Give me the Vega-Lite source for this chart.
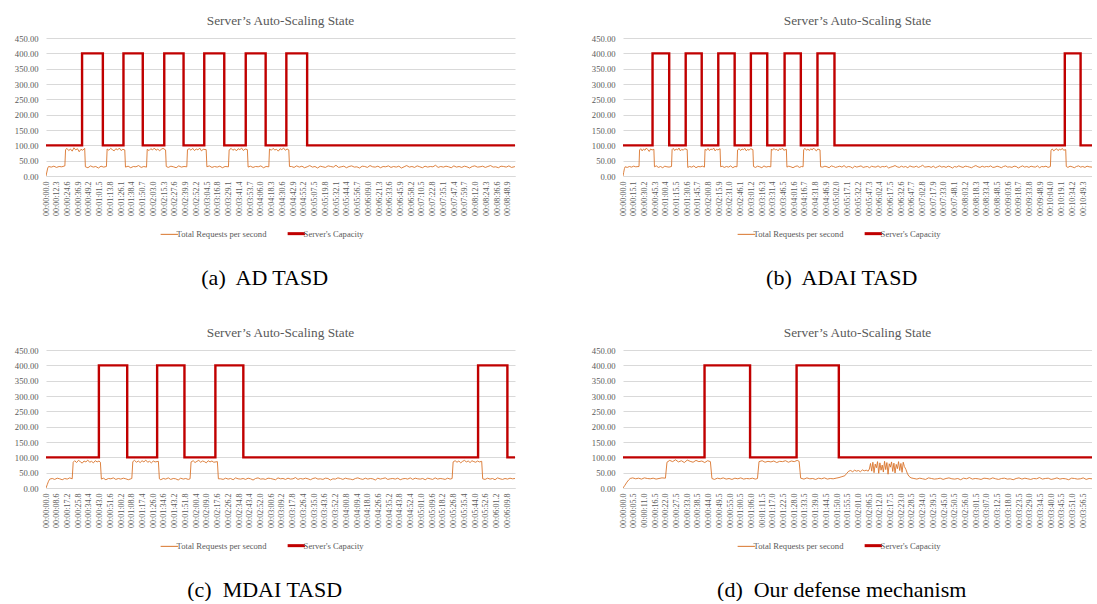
{
"$schema": "https://vega.github.io/schema/vega-lite/v6.json",
"background": "white",
"padding": {"left": 14, "top": 13, "right": 0, "bottom": 0},
"datasets": {
"ra": [{"t":0,"v":0},{"t":1,"v":13},{"t":2,"v":26},{"t":3,"v":31},{"t":6,"v":29},{"t":9,"v":32},{"t":12,"v":28},{"t":15,"v":31},{"t":18,"v":30},{"t":21.6,"v":33},
{"t":22.4,"v":86},{"t":24,"v":90},{"t":26,"v":83},{"t":28,"v":88},{"t":30,"v":81},{"t":32,"v":92},{"t":34,"v":85},{"t":36,"v":89},{"t":38,"v":79},{"t":40,"v":87},{"t":42,"v":84},{"t":44.3,"v":90},
{"t":45.1,"v":30},{"t":48,"v":27},{"t":51,"v":33},{"t":54,"v":29},{"t":57,"v":31},{"t":60,"v":26},{"t":63,"v":32},{"t":66,"v":29},{"t":69.2,"v":31},
{"t":70,"v":88},{"t":72,"v":84},{"t":74,"v":90},{"t":76,"v":86},{"t":78,"v":82},{"t":80,"v":89},{"t":82,"v":85},{"t":84,"v":91},{"t":86,"v":83},{"t":88,"v":87},{"t":90.2,"v":85},
{"t":91,"v":29},{"t":94,"v":32},{"t":97,"v":27},{"t":100,"v":31},{"t":103,"v":30},{"t":106,"v":34},{"t":109,"v":28},{"t":112,"v":31},{"t":115.1,"v":29},
{"t":115.9,"v":87},{"t":118,"v":83},{"t":120,"v":89},{"t":122,"v":85},{"t":124,"v":91},{"t":126,"v":84},{"t":128,"v":88},{"t":130,"v":82},{"t":132,"v":87},{"t":134,"v":90},{"t":136.9,"v":85},
{"t":137.7,"v":31},{"t":140,"v":28},{"t":143,"v":32},{"t":146,"v":30},{"t":149,"v":27},{"t":152,"v":33},{"t":155,"v":29},{"t":158,"v":31},{"t":161.2,"v":30},
{"t":162,"v":86},{"t":164,"v":89},{"t":166,"v":84},{"t":168,"v":90},{"t":170,"v":83},{"t":172,"v":88},{"t":174,"v":85},{"t":176,"v":91},{"t":178,"v":82},{"t":180,"v":87},{"t":183.4,"v":86},
{"t":184.2,"v":30},{"t":187,"v":33},{"t":190,"v":28},{"t":193,"v":31},{"t":196,"v":29},{"t":199,"v":32},{"t":202,"v":27},{"t":205,"v":31},{"t":208.9,"v":30},
{"t":209.7,"v":85},{"t":212,"v":90},{"t":214,"v":84},{"t":216,"v":88},{"t":218,"v":82},{"t":220,"v":89},{"t":222,"v":86},{"t":224,"v":91},{"t":226,"v":83},{"t":228,"v":88},{"t":230.6,"v":86},
{"t":231.4,"v":29},{"t":234,"v":32},{"t":237,"v":28},{"t":240,"v":31},{"t":243,"v":30},{"t":246,"v":33},{"t":249,"v":27},{"t":252,"v":31},{"t":255.1,"v":30},
{"t":255.9,"v":88},{"t":258,"v":84},{"t":260,"v":90},{"t":262,"v":85},{"t":264,"v":87},{"t":266,"v":81},{"t":268,"v":89},{"t":270,"v":86},{"t":272,"v":91},{"t":274,"v":84},{"t":276,"v":88},{"t":278,"v":85},
{"t":278.8,"v":31},
{"t":281,"v":31},{"t":284,"v":28},{"t":287,"v":33},{"t":290,"v":29},{"t":293,"v":32},{"t":296,"v":27},{"t":299,"v":30},{"t":302,"v":34},{"t":305,"v":29},{"t":308,"v":31},
{"t":311,"v":26},{"t":314,"v":32},{"t":317,"v":30},{"t":320,"v":28},{"t":323,"v":33},{"t":326,"v":31},{"t":329,"v":29},{"t":332,"v":35},{"t":335,"v":28},{"t":338,"v":30},
{"t":341,"v":32},{"t":344,"v":27},{"t":347,"v":31},{"t":350,"v":33},{"t":353,"v":29},{"t":356,"v":30},{"t":359,"v":26},{"t":362,"v":32},{"t":365,"v":31},{"t":368,"v":28},
{"t":371,"v":34},{"t":374,"v":30},{"t":377,"v":29},{"t":380,"v":32},{"t":383,"v":27},{"t":386,"v":31},{"t":389,"v":30},{"t":392,"v":33},{"t":395,"v":28},{"t":398,"v":31},
{"t":401,"v":29},{"t":404,"v":32},{"t":407,"v":26},{"t":410,"v":30},{"t":413,"v":34},{"t":416,"v":29},{"t":419,"v":31},{"t":422,"v":28},{"t":425,"v":33},{"t":428,"v":30},
{"t":431,"v":27},{"t":434,"v":32},{"t":437,"v":29},{"t":440,"v":31},{"t":443,"v":30},{"t":446,"v":35},{"t":449,"v":28},{"t":452,"v":31},{"t":455,"v":29},{"t":458,"v":32},
{"t":461,"v":30},{"t":464,"v":27},{"t":467,"v":33},{"t":470,"v":29},{"t":473,"v":31},{"t":476,"v":28},{"t":479,"v":32},{"t":482,"v":30},{"t":485,"v":26},{"t":488,"v":31},
{"t":491,"v":33},{"t":494,"v":29},{"t":497,"v":30},{"t":500,"v":32},{"t":503,"v":28},{"t":506,"v":31},{"t":509,"v":34},{"t":512,"v":29},{"t":515,"v":30},{"t":518,"v":27},
{"t":521,"v":32},{"t":524,"v":31},{"t":527,"v":29},{"t":530,"v":33},{"t":533,"v":28},{"t":536,"v":30},{"t":537,"v":31}],
"ca": [{"t":0,"v":100},{"t":41.3,"v":400},{"t":65.1,"v":100},{"t":88.7,"v":400},{"t":110.8,"v":100},{"t":135.4,"v":400},{"t":157.5,"v":100},{"t":181.2,"v":400},{"t":204.1,"v":100},{"t":228.7,"v":400},{"t":251.5,"v":100},{"t":275.2,"v":400},{"t":299.0,"v":100},{"t":537,"v":100}],
"rb": [{"t":0,"v":0},{"t":1,"v":12},{"t":2,"v":24},{"t":3,"v":30},{"t":6,"v":28},{"t":9,"v":31},{"t":12,"v":29},{"t":15,"v":32},{"t":18,"v":30},{"t":22.6,"v":31},
{"t":23.4,"v":85},{"t":25,"v":89},{"t":27,"v":82},{"t":29,"v":88},{"t":31,"v":84},{"t":33,"v":91},{"t":35,"v":86},{"t":37,"v":80},{"t":39,"v":88},{"t":41,"v":85},{"t":43.6,"v":87},
{"t":44.4,"v":30},{"t":47,"v":33},{"t":50,"v":28},{"t":53,"v":31},{"t":56,"v":27},{"t":59,"v":32},{"t":62,"v":30},{"t":65,"v":29},{"t":68.5,"v":31},
{"t":69.3,"v":86},{"t":71,"v":90},{"t":73,"v":83},{"t":75,"v":88},{"t":77,"v":85},{"t":79,"v":91},{"t":81,"v":82},{"t":83,"v":87},{"t":85,"v":84},{"t":87,"v":89},{"t":90.6,"v":86},
{"t":91.4,"v":28},{"t":94,"v":31},{"t":97,"v":29},{"t":100,"v":33},{"t":103,"v":27},{"t":106,"v":31},{"t":109,"v":30},{"t":112,"v":32},{"t":115,"v":29},
{"t":115.8,"v":87},{"t":118,"v":84},{"t":120,"v":90},{"t":122,"v":83},{"t":124,"v":88},{"t":126,"v":86},{"t":128,"v":91},{"t":130,"v":82},{"t":132,"v":87},{"t":134,"v":85},{"t":137,"v":89},
{"t":137.8,"v":30},{"t":140,"v":32},{"t":143,"v":28},{"t":146,"v":31},{"t":149,"v":29},{"t":152,"v":33},{"t":155,"v":27},{"t":158,"v":31},{"t":160.9,"v":30},
{"t":161.7,"v":85},{"t":164,"v":89},{"t":166,"v":83},{"t":168,"v":88},{"t":170,"v":86},{"t":172,"v":90},{"t":174,"v":82},{"t":176,"v":87},{"t":178,"v":84},{"t":180,"v":89},{"t":183.4,"v":86},
{"t":184.2,"v":31},{"t":187,"v":28},{"t":190,"v":32},{"t":193,"v":30},{"t":196,"v":27},{"t":199,"v":33},{"t":202,"v":29},{"t":205,"v":31},{"t":208.6,"v":30},
{"t":209.4,"v":88},{"t":211,"v":84},{"t":213,"v":90},{"t":215,"v":85},{"t":217,"v":87},{"t":219,"v":82},{"t":221,"v":89},{"t":223,"v":86},{"t":225,"v":91},{"t":227,"v":84},{"t":230.6,"v":87},
{"t":231.4,"v":29},{"t":234,"v":32},{"t":237,"v":30},{"t":240,"v":27},{"t":243,"v":31},{"t":246,"v":33},{"t":249,"v":28},{"t":252,"v":31},{"t":254.2,"v":30},
{"t":255,"v":86},{"t":257,"v":90},{"t":259,"v":84},{"t":261,"v":88},{"t":263,"v":83},{"t":265,"v":89},{"t":267,"v":85},{"t":269,"v":91},{"t":271,"v":86},{"t":273,"v":82},{"t":275,"v":88},{"t":278.1,"v":85},
{"t":278.9,"v":30},
{"t":282,"v":29},{"t":285,"v":32},{"t":288,"v":30},{"t":291,"v":27},{"t":294,"v":33},{"t":297,"v":31},{"t":300,"v":28},{"t":303,"v":30},{"t":306,"v":32},{"t":309,"v":29},
{"t":312,"v":34},{"t":315,"v":28},{"t":318,"v":31},{"t":321,"v":30},{"t":324,"v":26},{"t":327,"v":32},{"t":330,"v":29},{"t":333,"v":31},{"t":336,"v":33},{"t":339,"v":28},
{"t":342,"v":30},{"t":345,"v":31},{"t":348,"v":27},{"t":351,"v":32},{"t":354,"v":30},{"t":357,"v":29},{"t":360,"v":33},{"t":363,"v":28},{"t":366,"v":31},{"t":369,"v":30},
{"t":372,"v":32},{"t":375,"v":26},{"t":378,"v":29},{"t":381,"v":31},{"t":384,"v":34},{"t":387,"v":30},{"t":390,"v":28},{"t":393,"v":32},{"t":396,"v":29},{"t":399,"v":31},
{"t":402,"v":27},{"t":405,"v":33},{"t":408,"v":30},{"t":411,"v":29},{"t":414,"v":32},{"t":417,"v":28},{"t":420,"v":31},{"t":423,"v":35},{"t":426,"v":29},{"t":429,"v":30},
{"t":432,"v":31},{"t":435,"v":28},{"t":438,"v":32},{"t":441,"v":27},{"t":444,"v":30},{"t":447,"v":33},{"t":450,"v":29},{"t":453,"v":31},{"t":456,"v":28},{"t":459,"v":32},
{"t":462,"v":30},{"t":465,"v":26},{"t":468,"v":31},{"t":471,"v":29},{"t":474,"v":33},{"t":477,"v":30},{"t":480,"v":28},{"t":483,"v":32},{"t":486,"v":31},{"t":489,"v":29},
{"t":492,"v":27},{"t":495,"v":31},{"t":498,"v":34},{"t":501,"v":30},{"t":504,"v":28},{"t":507,"v":32},{"t":510,"v":29},{"t":513,"v":31},{"t":516,"v":30},{"t":519,"v":33},
{"t":522,"v":28},{"t":525,"v":29},{"t":528,"v":32},{"t":531,"v":30},{"t":534,"v":27},{"t":537,"v":31},{"t":540,"v":33},{"t":543,"v":29},{"t":546,"v":30},{"t":549,"v":28},
{"t":552,"v":32},{"t":555,"v":31},{"t":558,"v":26},{"t":561,"v":30},{"t":564,"v":33},{"t":567,"v":29},{"t":570,"v":31},{"t":573,"v":28},{"t":576,"v":32},{"t":579,"v":30},
{"t":582,"v":29},{"t":585,"v":33},{"t":588,"v":27},{"t":591,"v":31},{"t":594,"v":30},{"t":597,"v":32},{"t":600,"v":28},{"t":603.3,"v":31},
{"t":604.1,"v":84},{"t":606,"v":88},{"t":608,"v":82},{"t":610,"v":86},{"t":612,"v":89},{"t":614,"v":83},{"t":616,"v":87},{"t":618,"v":85},{"t":620,"v":90},{"t":622,"v":84},{"t":624.9,"v":86},
{"t":625.7,"v":31},{"t":628,"v":28},{"t":631,"v":32},{"t":634,"v":30},{"t":637,"v":27},{"t":640,"v":31},{"t":643,"v":33},{"t":646,"v":29},{"t":649,"v":31},{"t":652,"v":28},{"t":655,"v":32},{"t":658,"v":30},{"t":662,"v":29}],
"cb": [{"t":0,"v":100},{"t":41.7,"v":400},{"t":65.2,"v":100},{"t":88.5,"v":400},{"t":111.1,"v":100},{"t":134.5,"v":400},{"t":157.6,"v":100},{"t":180.5,"v":400},{"t":203.6,"v":100},{"t":228.1,"v":400},{"t":251.0,"v":100},{"t":274.5,"v":400},{"t":298.5,"v":100},{"t":623.6,"v":400},{"t":645.9,"v":100},{"t":662,"v":100}],
"rc": [{"t":0,"v":0},{"t":1,"v":11},{"t":2,"v":22},{"t":3,"v":29},{"t":5,"v":31},{"t":7,"v":28},{"t":9,"v":32},{"t":11,"v":30},{"t":13,"v":27},{"t":15,"v":31},{"t":17,"v":29},{"t":19,"v":33},{"t":21,"v":30},
{"t":21.8,"v":84},{"t":23,"v":89},{"t":24.5,"v":83},{"t":26,"v":90},{"t":27.5,"v":86},{"t":29,"v":81},{"t":30.5,"v":88},{"t":32,"v":85},{"t":33.5,"v":91},{"t":35,"v":84},{"t":36.5,"v":87},{"t":38,"v":82},{"t":39.5,"v":89},{"t":41,"v":85},{"t":42.5,"v":88},{"t":43.6,"v":84},
{"t":44.4,"v":29},{"t":46,"v":32},{"t":48,"v":27},{"t":50,"v":31},{"t":52,"v":30},{"t":54,"v":33},{"t":56,"v":28},{"t":58,"v":31},{"t":60,"v":29},{"t":62,"v":32},{"t":64,"v":30},{"t":66,"v":27},{"t":68.8,"v":31},
{"t":69.6,"v":86},{"t":71,"v":90},{"t":72.5,"v":84},{"t":74,"v":88},{"t":75.5,"v":83},{"t":77,"v":89},{"t":78.5,"v":85},{"t":80,"v":91},{"t":81.5,"v":84},{"t":83,"v":87},{"t":84.5,"v":82},{"t":86,"v":88},{"t":87.5,"v":85},{"t":90.1,"v":87},
{"t":90.9,"v":30},{"t":92,"v":27},{"t":94,"v":31},{"t":96,"v":29},{"t":98,"v":33},{"t":100,"v":28},{"t":102,"v":31},{"t":104,"v":30},{"t":106,"v":26},{"t":108,"v":32},{"t":110,"v":29},{"t":112,"v":31},{"t":114,"v":28},{"t":115.5,"v":30},
{"t":116.3,"v":85},{"t":118,"v":89},{"t":119.5,"v":83},{"t":121,"v":87},{"t":122.5,"v":90},{"t":124,"v":84},{"t":125.5,"v":88},{"t":127,"v":86},{"t":128.5,"v":82},{"t":130,"v":89},{"t":131.5,"v":85},{"t":133,"v":88},{"t":134.5,"v":84},{"t":137.4,"v":86},
{"t":138.2,"v":30},
{"t":140,"v":30},{"t":142,"v":28},{"t":144,"v":32},{"t":146,"v":29},{"t":148,"v":31},{"t":150,"v":27},{"t":152,"v":33},{"t":154,"v":30},{"t":156,"v":29},{"t":158,"v":31},
{"t":160,"v":28},{"t":162,"v":32},{"t":164,"v":30},{"t":166,"v":26},{"t":168,"v":31},{"t":170,"v":33},{"t":172,"v":29},{"t":174,"v":30},{"t":176,"v":28},{"t":178,"v":32},
{"t":180,"v":31},{"t":182,"v":29},{"t":184,"v":27},{"t":186,"v":33},{"t":188,"v":30},{"t":190,"v":31},{"t":192,"v":28},{"t":194,"v":32},{"t":196,"v":29},{"t":198,"v":30},
{"t":200,"v":34},{"t":202,"v":28},{"t":204,"v":31},{"t":206,"v":29},{"t":208,"v":32},{"t":210,"v":30},{"t":212,"v":27},{"t":214,"v":31},{"t":216,"v":33},{"t":218,"v":29},
{"t":220,"v":30},{"t":222,"v":28},{"t":224,"v":32},{"t":226,"v":31},{"t":228,"v":26},{"t":230,"v":30},{"t":232,"v":29},{"t":234,"v":33},{"t":236,"v":31},{"t":238,"v":28},
{"t":240,"v":32},{"t":242,"v":30},{"t":244,"v":29},{"t":246,"v":27},{"t":248,"v":31},{"t":250,"v":33},{"t":252,"v":30},{"t":254,"v":28},{"t":256,"v":32},{"t":258,"v":29},
{"t":260,"v":31},{"t":262,"v":30},{"t":264,"v":26},{"t":266,"v":32},{"t":268,"v":29},{"t":270,"v":31},{"t":272,"v":33},{"t":274,"v":28},{"t":276,"v":30},{"t":278,"v":31},
{"t":280,"v":29},{"t":282,"v":32},{"t":284,"v":27},{"t":286,"v":30},{"t":288,"v":31},{"t":290,"v":29},{"t":292,"v":33},{"t":294,"v":28},{"t":296,"v":32},{"t":298,"v":30},
{"t":300,"v":29},{"t":302,"v":31},{"t":304,"v":27},{"t":306,"v":32},{"t":308,"v":30},{"t":310,"v":28},{"t":312,"v":33},{"t":314,"v":29},{"t":316,"v":31},{"t":318,"v":30},
{"t":320,"v":28},{"t":322,"v":32},{"t":324,"v":29},{"t":325.6,"v":31},
{"t":326.4,"v":85},{"t":328,"v":89},{"t":329.5,"v":84},{"t":331,"v":88},{"t":332.5,"v":82},{"t":334,"v":87},{"t":335.5,"v":90},{"t":337,"v":85},{"t":338.5,"v":88},{"t":340,"v":83},{"t":341.5,"v":89},{"t":343,"v":86},{"t":344.5,"v":84},{"t":346,"v":88},{"t":347.5,"v":85},{"t":349.3,"v":87},
{"t":350.1,"v":30},{"t":352,"v":28},{"t":354,"v":32},{"t":356,"v":29},{"t":358,"v":31},{"t":360,"v":27},{"t":362,"v":33},{"t":364,"v":30},{"t":366,"v":28},{"t":368,"v":31},{"t":370,"v":29},{"t":372,"v":32},{"t":374,"v":30},{"t":376,"v":31}],
"cc": [{"t":0,"v":100},{"t":42.4,"v":400},{"t":65.1,"v":100},{"t":89.1,"v":400},{"t":111.0,"v":100},{"t":135.8,"v":400},{"t":158.2,"v":100},{"t":346.4,"v":400},{"t":369.9,"v":100},{"t":376,"v":100}],
"rd": [{"t":0,"v":0},{"t":1,"v":9},{"t":2,"v":19},{"t":3,"v":27},{"t":3.7,"v":31},{"t":5,"v":33},{"t":6.5,"v":30},{"t":8,"v":32},{"t":9.5,"v":29},{"t":11,"v":33},{"t":12.5,"v":31},{"t":14,"v":30},{"t":15.5,"v":32},{"t":17,"v":29},{"t":18.5,"v":31},{"t":20,"v":33},{"t":21.8,"v":32},
{"t":22.6,"v":84},{"t":24,"v":90},{"t":25.5,"v":86},{"t":27,"v":92},{"t":28.5,"v":85},{"t":30,"v":89},{"t":31.5,"v":83},{"t":33,"v":91},{"t":34.5,"v":87},{"t":36,"v":84},{"t":37.5,"v":90},{"t":39,"v":86},{"t":40.5,"v":88},{"t":42,"v":83},{"t":43.5,"v":89},{"t":44.9,"v":86},
{"t":45.7,"v":31},{"t":47,"v":28},{"t":48.5,"v":32},{"t":50,"v":30},{"t":51.5,"v":33},{"t":53,"v":29},{"t":54.5,"v":31},{"t":56,"v":28},{"t":57.5,"v":32},{"t":59,"v":30},{"t":60.5,"v":33},{"t":62,"v":29},{"t":63.5,"v":31},{"t":65,"v":30},{"t":66.5,"v":32},{"t":68,"v":29},{"t":69.1,"v":31},
{"t":69.9,"v":86},{"t":71.5,"v":89},{"t":73,"v":84},{"t":74.5,"v":87},{"t":76,"v":85},{"t":77.5,"v":88},{"t":79,"v":83},{"t":80.5,"v":87},{"t":82,"v":86},{"t":83.5,"v":89},{"t":85,"v":84},{"t":86.5,"v":88},{"t":88,"v":86},{"t":89.5,"v":90},{"t":90.5,"v":87},
{"t":91.3,"v":32},{"t":93,"v":29},{"t":94.5,"v":33},{"t":96,"v":30},{"t":97.5,"v":31},{"t":99,"v":28},{"t":100.5,"v":32},{"t":102,"v":30},{"t":103.5,"v":33},{"t":105,"v":29},{"t":106.5,"v":31},{"t":108,"v":30},{"t":109.5,"v":32},{"t":111,"v":34},{"t":112.5,"v":37},{"t":114,"v":40},
{"t":115,"v":48},{"t":116,"v":55},{"t":117,"v":57},{"t":118,"v":53},{"t":119,"v":58},{"t":120,"v":55},{"t":121,"v":57},{"t":122,"v":53},{"t":123,"v":59},{"t":124,"v":56},{"t":125,"v":58},{"t":126,"v":55},
{"t":126.6,"v":62},{"t":127.2,"v":80},{"t":127.8,"v":55},{"t":128.4,"v":84},{"t":129,"v":50},{"t":129.6,"v":78},{"t":130.2,"v":66},{"t":130.8,"v":86},{"t":131.4,"v":48},{"t":132,"v":82},{"t":132.6,"v":58},{"t":133.2,"v":75},{"t":133.8,"v":52},{"t":134.4,"v":87},{"t":135,"v":60},{"t":135.6,"v":83},{"t":136.2,"v":45},{"t":136.8,"v":79},{"t":137.4,"v":68},{"t":138,"v":85},{"t":138.6,"v":54},{"t":139.2,"v":81},{"t":139.8,"v":49},{"t":140.4,"v":77},{"t":141,"v":63},{"t":141.6,"v":86},{"t":142.2,"v":57},{"t":142.8,"v":80},{"t":143.4,"v":51},{"t":144,"v":84},{"t":144.6,"v":70},
{"t":145.4,"v":60},{"t":146.2,"v":46},{"t":147,"v":38},{"t":148,"v":33},
{"t":149.5,"v":31},{"t":151,"v":29},{"t":152.5,"v":32},{"t":154,"v":30},{"t":155.5,"v":28},{"t":157,"v":33},{"t":158.5,"v":31},{"t":160,"v":29},{"t":161.5,"v":30},{"t":163,"v":32},
{"t":164.5,"v":28},{"t":166,"v":31},{"t":167.5,"v":33},{"t":169,"v":30},{"t":170.5,"v":29},{"t":172,"v":31},{"t":173.5,"v":27},{"t":175,"v":32},{"t":176.5,"v":30},{"t":178,"v":34},
{"t":179.5,"v":29},{"t":181,"v":31},{"t":182.5,"v":30},{"t":184,"v":28},{"t":185.5,"v":32},{"t":187,"v":31},{"t":188.5,"v":29},{"t":190,"v":33},{"t":191.5,"v":30},{"t":193,"v":28},
{"t":194.5,"v":31},{"t":196,"v":32},{"t":197.5,"v":29},{"t":199,"v":30},{"t":200.5,"v":27},{"t":202,"v":31},{"t":203.5,"v":33},{"t":205,"v":29},{"t":206.5,"v":32},{"t":208,"v":30},
{"t":209.5,"v":28},{"t":211,"v":31},{"t":212.5,"v":30},{"t":214,"v":34},{"t":215.5,"v":29},{"t":217,"v":31},{"t":218.5,"v":32},{"t":220,"v":28},{"t":221.5,"v":30},{"t":223,"v":33},
{"t":224.5,"v":29},{"t":226,"v":31},{"t":227.5,"v":30},{"t":229,"v":27},{"t":230.5,"v":32},{"t":232,"v":31},{"t":233.5,"v":29},{"t":235,"v":30},{"t":236.5,"v":33},{"t":238,"v":28},
{"t":239.5,"v":31},{"t":241,"v":30}],
"cd": [{"t":0,"v":100},{"t":41.9,"v":400},{"t":65.3,"v":100},{"t":89.2,"v":400},{"t":110.9,"v":100},{"t":241,"v":100}]
},
"concat": [
{"title": {"text": "(a)\u00a0 AD TASD", "orient": "bottom", "font": "Liberation Serif", "fontSize": 22, "color": "#000000", "offset": 28, "anchor": "middle"},
 "vconcat": [{"width": 469, "height": 138, "title": {"text": "Server’s Auto-Scaling State"},
 "encoding": {
    "x": {"field": "t", "type": "quantitative", "scale": {"domain": [0, 537], "nice": false, "zero": false}, "axis": {"title": null, "values": [0,12.3,24.6,36.9,49.2,61.5,73.8,86.1,98.4,110.7,123,135.3,147.6,159.9,172.2,184.5,196.8,209.1,221.4,233.7,246,258.3,270.6,282.9,295.2,307.5,319.8,332.1,344.4,356.7,369,381.3,393.6,405.9,418.2,430.5,442.8,455.1,467.4,479.7,492,504.3,516.6,528.9], "labelExpr": "(floor(datum.value/60) < 10 ? '00:0' : '00:') + floor(datum.value/60) + ':' + format(datum.value % 60, '04.1f')"}},
    "y": {"field": "v", "type": "quantitative", "scale": {"domain": [0, 450], "nice": false}, "axis": {"title": null, "values": [0,50,100,150,200,250,300,350,400,450], "format": ".2f"}}
 },
 "layer": [
  {"data": {"name": "ra"}, "mark": {"type": "line", "strokeWidth": 0.9, "clip": true},
   "encoding": {"color": {"datum": "Total Requests per second", "type": "nominal", "scale": {"domain": ["Total Requests per second", "Server's Capacity"], "range": ["#D9742B", "#C00000"]}, "legend": {"encode": {"symbols": {"update": {"strokeWidth": {"signal": "datum.value == 'Total Requests per second' ? 1 : 3"}}}}}}}},
  {"data": {"name": "ca"}, "mark": {"type": "line", "strokeWidth": 2.4, "interpolate": "step-after", "clip": true},
   "encoding": {"color": {"datum": "Server's Capacity", "type": "nominal"}}}
 ]}]},
{"title": {"text": "(b)\u00a0 ADAI TASD", "orient": "bottom", "font": "Liberation Serif", "fontSize": 22, "color": "#000000", "offset": 28, "anchor": "middle"},
 "vconcat": [{"width": 469, "height": 138, "title": {"text": "Server’s Auto-Scaling State"},
 "encoding": {
    "x": {"field": "t", "type": "quantitative", "scale": {"domain": [0, 662], "nice": false, "zero": false}, "axis": {"title": null, "values": [0,15.1,30.2,45.3,60.4,75.5,90.6,105.7,120.8,135.9,151,166.1,181.2,196.3,211.4,226.5,241.6,256.7,271.8,286.9,302,317.1,332.2,347.3,362.4,377.5,392.6,407.7,422.8,437.9,453,468.1,483.2,498.3,513.4,528.5,543.6,558.7,573.8,588.9,604,619.1,634.2,649.3], "labelExpr": "(floor(datum.value/60) < 10 ? '00:0' : '00:') + floor(datum.value/60) + ':' + format(datum.value % 60, '04.1f')"}},
    "y": {"field": "v", "type": "quantitative", "scale": {"domain": [0, 450], "nice": false}, "axis": {"title": null, "values": [0,50,100,150,200,250,300,350,400,450], "format": ".2f"}}
 },
 "layer": [
  {"data": {"name": "rb"}, "mark": {"type": "line", "strokeWidth": 0.9, "clip": true},
   "encoding": {"color": {"datum": "Total Requests per second", "type": "nominal", "scale": {"domain": ["Total Requests per second", "Server's Capacity"], "range": ["#D9742B", "#C00000"]}, "legend": {"encode": {"symbols": {"update": {"strokeWidth": {"signal": "datum.value == 'Total Requests per second' ? 1 : 3"}}}}}}}},
  {"data": {"name": "cb"}, "mark": {"type": "line", "strokeWidth": 2.4, "interpolate": "step-after", "clip": true},
   "encoding": {"color": {"datum": "Server's Capacity", "type": "nominal"}}}
 ]}]},
{"title": {"text": "(c)\u00a0 MDAI TASD", "orient": "bottom", "font": "Liberation Serif", "fontSize": 22, "color": "#000000", "offset": 28, "anchor": "middle"},
 "vconcat": [{"width": 469, "height": 138, "title": {"text": "Server’s Auto-Scaling State"},
 "encoding": {
    "x": {"field": "t", "type": "quantitative", "scale": {"domain": [0, 376], "nice": false, "zero": false}, "axis": {"title": null, "values": [0,8.6,17.2,25.8,34.4,43,51.6,60.2,68.8,77.4,86,94.6,103.2,111.8,120.4,129,137.6,146.2,154.8,163.4,172,180.6,189.2,197.8,206.4,215,223.6,232.2,240.8,249.4,258,266.6,275.2,283.8,292.4,301,309.6,318.2,326.8,335.4,344,352.6,361.2,369.8], "labelExpr": "(floor(datum.value/60) < 10 ? '00:0' : '00:') + floor(datum.value/60) + ':' + format(datum.value % 60, '04.1f')"}},
    "y": {"field": "v", "type": "quantitative", "scale": {"domain": [0, 450], "nice": false}, "axis": {"title": null, "values": [0,50,100,150,200,250,300,350,400,450], "format": ".2f"}}
 },
 "layer": [
  {"data": {"name": "rc"}, "mark": {"type": "line", "strokeWidth": 0.9, "clip": true},
   "encoding": {"color": {"datum": "Total Requests per second", "type": "nominal", "scale": {"domain": ["Total Requests per second", "Server's Capacity"], "range": ["#D9742B", "#C00000"]}, "legend": {"encode": {"symbols": {"update": {"strokeWidth": {"signal": "datum.value == 'Total Requests per second' ? 1 : 3"}}}}}}}},
  {"data": {"name": "cc"}, "mark": {"type": "line", "strokeWidth": 2.4, "interpolate": "step-after", "clip": true},
   "encoding": {"color": {"datum": "Server's Capacity", "type": "nominal"}}}
 ]}]},
{"title": {"text": "(d)\u00a0 Our defense mechanism", "orient": "bottom", "font": "Liberation Serif", "fontSize": 22, "color": "#000000", "offset": 28, "anchor": "middle"},
 "vconcat": [{"width": 469, "height": 138, "title": {"text": "Server’s Auto-Scaling State"},
 "encoding": {
    "x": {"field": "t", "type": "quantitative", "scale": {"domain": [0, 241], "nice": false, "zero": false}, "axis": {"title": null, "values": [0,5.5,11,16.5,22,27.5,33,38.5,44,49.5,55,60.5,66,71.5,77,82.5,88,93.5,99,104.5,110,115.5,121,126.5,132,137.5,143,148.5,154,159.5,165,170.5,176,181.5,187,192.5,198,203.5,209,214.5,220,225.5,231,236.5], "labelExpr": "(floor(datum.value/60) < 10 ? '00:0' : '00:') + floor(datum.value/60) + ':' + format(datum.value % 60, '04.1f')"}},
    "y": {"field": "v", "type": "quantitative", "scale": {"domain": [0, 450], "nice": false}, "axis": {"title": null, "values": [0,50,100,150,200,250,300,350,400,450], "format": ".2f"}}
 },
 "layer": [
  {"data": {"name": "rd"}, "mark": {"type": "line", "strokeWidth": 0.9, "clip": true},
   "encoding": {"color": {"datum": "Total Requests per second", "type": "nominal", "scale": {"domain": ["Total Requests per second", "Server's Capacity"], "range": ["#D9742B", "#C00000"]}, "legend": {"encode": {"symbols": {"update": {"strokeWidth": {"signal": "datum.value == 'Total Requests per second' ? 1 : 3"}}}}}}}},
  {"data": {"name": "cd"}, "mark": {"type": "line", "strokeWidth": 2.4, "interpolate": "step-after", "clip": true},
   "encoding": {"color": {"datum": "Server's Capacity", "type": "nominal"}}}
 ]}]}
],
"columns": 2,
"spacing": {"row": 36, "column": 76},
"resolve": {"scale": {"color": "independent"}},
"config": {
 "font": "Liberation Serif",
 "view": {"stroke": null},
 "title": {"fontSize": 13.3, "fontWeight": "normal", "color": "#595959", "offset": 7},
 "axisX": {"labelAngle": 270, "labelFontSize": 8, "labelPadding": 5, "ticks": false, "grid": false, "domainColor": "#d9d9d9", "labelOverlap": false, "labelFlush": false, "labelColor": "#595959"},
 "axisY": {"labelFontSize": 8.6, "labelPadding": 8, "domain": false, "ticks": false, "gridColor": "#d9d9d9", "labelColor": "#595959", "labelOverlap": false},
 "legend": {"orient": "bottom", "direction": "horizontal", "title": null, "symbolType": "stroke", "symbolSize": 300, "labelFontSize": 8.6, "labelColor": "#595959", "columnPadding": 14, "offset": 13, "labelOffset": 3, "layout": {"bottom": {"anchor": "middle"}}}
}
}
